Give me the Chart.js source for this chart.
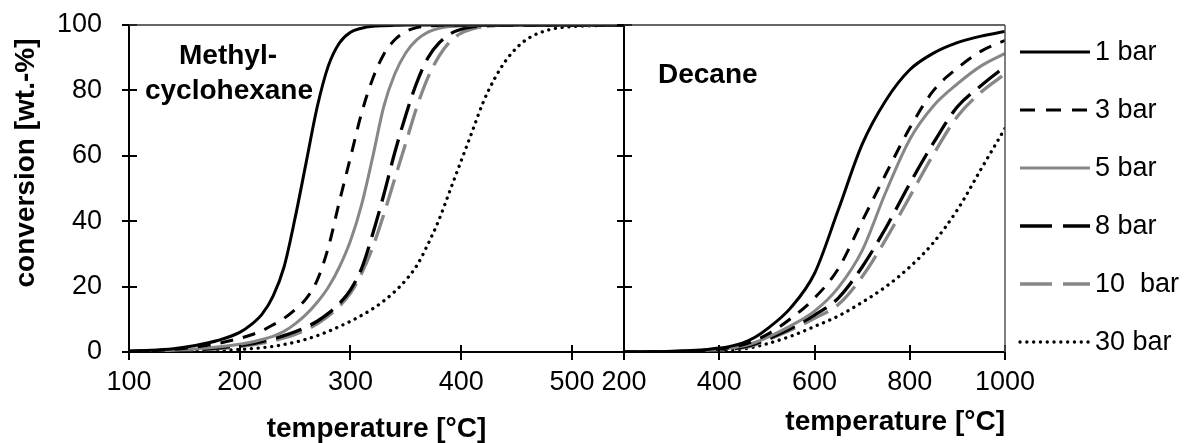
<!DOCTYPE html>
<html>
<head>
<meta charset="utf-8">
<script src="https://cdn.jsdelivr.net/npm/chart.js@4.4.1/dist/chart.umd.min.js"></script>
<style>
    html, body { margin: 0; padding: 0; background: #fff; }
    #wrap { position: relative; width: 1195px; height: 443px; }
    #wrap canvas { position: absolute; left: 0; top: 0; }
</style>
</head>
<body>
<div id="wrap">
    <canvas id="mchChart" width="1195" height="443"></canvas>
    <canvas id="decChart" width="1195" height="443"></canvas>
</div>
<script>
// pressures (legend)
var pressureLabels = ['1 bar', '3 bar', '5 bar', '8 bar', '10  bar', '30 bar']

// tick labels
var conversionTicks = [0, 20, 40, 60, 80, 100]
var mchTempTicks = [100, 200, 300, 400, 500]
var decTempTicks = [200, 400, 600, 800, 1000]

// methylcyclohexane, conversion [wt.-%] vs temperature [°C]
var mchTemps = [100, 120, 140, 160, 180, 200, 210, 220, 230, 240, 250, 260, 270, 280, 290, 300, 310, 320, 330, 340, 350, 360, 370, 380, 390, 400, 410, 420, 430, 440, 450, 460, 480, 500, 520, 547]
var mch1 = [0.3, 0.5, 1.0, 2.0, 3.5, 6.0, 8.3, 11.5, 17, 26, 41, 58, 75, 87.5, 94.5, 97.8, 99, 99.6, 99.8, 99.9, 100, 100, 100, 100, 100, 100, 100, 100, 100, 100, 100, 100, 100, 100, 100, 100]
var mch3 = [0.2, 0.4, 0.8, 1.5, 2.6, 4.2, 5.2, 6.5, 8.3, 10.3, 13, 16.3, 22, 32, 46, 59.5, 73, 83.5, 91, 95.5, 98, 99.2, 99.7, 99.9, 100, 100, 100, 100, 100, 100, 100, 100, 100, 100, 100, 100]
var mch5 = [0.2, 0.3, 0.5, 0.9, 1.5, 2.4, 3.0, 3.8, 4.8, 6.3, 8.6, 11.5, 15.2, 19.8, 26, 34, 45, 59.5, 75, 85, 91.5, 95.5, 97.8, 99, 99.5, 99.8, 99.9, 100, 100, 100, 100, 100, 100, 100, 100, 100]
var mch8 = [0.1, 0.2, 0.4, 0.7, 1.2, 2.0, 2.5, 3.2, 4.0, 5.0, 6.2, 7.6, 9.4, 11.8, 14.8, 19, 25.5, 36, 48, 61, 72.5, 82.5, 90, 94.5, 97.3, 98.7, 99.4, 99.7, 99.9, 100, 100, 100, 100, 100, 100, 100]
var mch10 = [0.1, 0.2, 0.3, 0.6, 1.0, 1.6, 2.1, 2.7, 3.4, 4.3, 5.4, 6.8, 8.6, 11, 14, 18, 24, 32, 42, 53, 64, 75, 84, 90.5, 95, 97.5, 98.8, 99.5, 99.8, 100, 100, 100, 100, 100, 100, 100]
var mch30 = [0.1, 0.15, 0.2, 0.35, 0.5, 0.8, 1.0, 1.3, 1.7, 2.3, 3.0, 3.9, 5.0, 6.3, 7.8, 9.4, 11.2, 13.2, 15.6, 18.5, 22, 26.5, 33, 40.5, 49.5, 58.5, 67.5, 76.5, 83.5, 89, 93, 95.8, 98.6, 99.5, 99.8, 100]

// decane
var decTemps = [200, 250, 300, 350, 375, 400, 425, 450, 475, 500, 550, 600, 650, 700, 750, 800, 850, 900, 950, 1000]
var dec1 = [0, 0.05, 0.2, 0.5, 0.8, 1.2, 1.8, 2.8, 4.5, 7, 13.5, 24, 43.5, 63.5, 77, 86.3, 91.4, 94.6, 96.6, 98]
var dec3 = [0, 0.05, 0.15, 0.35, 0.6, 0.9, 1.4, 2.2, 3.5, 5.3, 10.2, 16.5, 25.5, 40, 54.5, 68.5, 80, 86.8, 92, 95.3]
var dec5 = [0, 0.03, 0.1, 0.3, 0.5, 0.8, 1.2, 1.8, 2.9, 4.4, 8.0, 12.5, 19.7, 31, 49, 65, 75.3, 82, 87.5, 91.3]
var dec8 = [0, 0.03, 0.1, 0.25, 0.4, 0.65, 1.0, 1.5, 2.5, 3.9, 7.2, 11.3, 16.5, 26, 38, 51.5, 64, 75, 81.5, 87.3]
var dec10 = [0, 0.02, 0.08, 0.2, 0.35, 0.55, 0.85, 1.3, 2.2, 3.6, 6.7, 10.3, 14.5, 23, 34.5, 47.5, 60.5, 72, 79.5, 85]
var dec30 = [0, 0, 0.03, 0.1, 0.2, 0.35, 0.6, 0.9, 1.6, 2.5, 4.8, 7.8, 11, 15.2, 20, 26, 33.5, 43.5, 56, 68.4]

var GRAY = '#878787'
var lineStyles = [
    { color: '#000', width: 3, dash: [], legendDash: [] },
    { color: '#000', width: 3, dash: [13, 10], legendDash: [15, 11] },
    { color: GRAY, width: 3, dash: [], legendDash: [] },
    { color: '#000', width: 3.3, dash: [27, 10], legendDash: [32, 11] },
    { color: GRAY, width: 3.3, dash: [27, 10], legendDash: [32, 11] },
    { color: '#000', width: 3.3, dash: [0.1, 6.7], legendDash: [0.1, 6.7], cap: 'round' }
]

Chart.defaults.font.family = "Arial, 'Liberation Sans', sans-serif"
Chart.defaults.color = '#000'

function buildDatasets(temps, seriesList) {
    return seriesList.map(function (values, i) {
        var st = lineStyles[i]
        return {
            label: pressureLabels[i],
            data: temps.map(function (t, j) { return { x: t, y: values[j] } }),
            borderColor: st.color,
            borderWidth: st.width,
            borderDash: st.dash,
            borderCapStyle: st.cap || 'butt',
            pointRadius: 0,
            fill: false,
            cubicInterpolationMode: 'monotone'
        }
    })
}

function fixedTicks(values) {
    return function (scale) {
        scale.ticks = values.map(function (v) { return { value: v } })
    }
}

// draws inner halves of the tick marks, the open frame, free texts and the side legend
var extrasPlugin = {
    id: 'extras',
    afterDraw: function (chart, args, opts) {
        var ctx = chart.ctx
        var area = chart.chartArea
        var xs = chart.scales.x
        var ys = chart.scales.y
        ctx.save()
        ctx.strokeStyle = '#000'
        ctx.lineWidth = 2
        ctx.beginPath()
        xs.ticks.forEach(function (t) {
            var px = Math.round(xs.getPixelForValue(t.value))
            ctx.moveTo(px, area.bottom)
            ctx.lineTo(px, area.bottom - 7)
        })
        ys.ticks.forEach(function (t) {
            var py = Math.round(ys.getPixelForValue(t.value))
            ctx.moveTo(area.left, py)
            ctx.lineTo(area.left + 8, py)
        })
        ctx.stroke()

        ctx.lineWidth = 1.5
        ctx.strokeStyle = '#333'
        ctx.beginPath()
        ctx.moveTo(area.left, area.top)
        ctx.lineTo(area.right, area.top)
        ctx.stroke()
        if (opts.rightBorder) {
            ctx.strokeStyle = '#555'
            ctx.beginPath()
            ctx.moveTo(area.right, area.top)
            ctx.lineTo(area.right, area.bottom)
            ctx.stroke()
        }

        ctx.fillStyle = '#000'
        ;(opts.texts || []).forEach(function (tx) {
            ctx.save()
            ctx.font = (tx.bold ? 'bold ' : '') + tx.size + 'px ' + Chart.defaults.font.family
            ctx.textAlign = tx.align || 'left'
            ctx.textBaseline = tx.baseline || 'alphabetic'
            ctx.translate(tx.x, tx.y)
            if (tx.rotate) ctx.rotate(tx.rotate)
            ctx.fillText(tx.text, 0, 0)
            ctx.restore()
        })

        if (opts.legend) {
            var lg = opts.legend
            ctx.font = lg.size + 'px ' + Chart.defaults.font.family
            ctx.textAlign = 'left'
            ctx.textBaseline = 'middle'
            chart.data.datasets.forEach(function (ds, i) {
                var y = lg.y0 + i * lg.step
                ctx.save()
                ctx.strokeStyle = ds.borderColor
                ctx.lineWidth = ds.borderWidth
                ctx.lineCap = ds.borderCapStyle
                ctx.setLineDash(lineStyles[i].legendDash)
                ctx.beginPath()
                ctx.moveTo(lg.x, y)
                ctx.lineTo(lg.x + lg.len, y)
                ctx.stroke()
                ctx.restore()
                ctx.fillText(ds.label, lg.x + lg.len + 5, y + 1)
            })
        }
        ctx.restore()
    }
}

function plainLabel(v) { return String(v) }

function axisOptions(tickValues, min, max, extra) {
    var o = {
        type: 'linear',
        min: min,
        max: max,
        afterBuildTicks: fixedTicks(tickValues),
        grid: { drawOnChartArea: false, color: '#000', lineWidth: 2, tickLength: 7 },
        border: { display: true, color: '#000', width: 2 },
        ticks: { font: { size: 27 }, color: '#000', callback: plainLabel }
    }
    return Object.assign(o, extra)
}

function yFit(width) {
    return function (s) {
        s.width = width
        s.paddingTop = 0
        s.paddingBottom = 0
    }
}

new Chart(document.getElementById('mchChart'), {
    type: 'line',
    data: { datasets: buildDatasets(mchTemps, [mch1, mch3, mch5, mch8, mch10, mch30]) },
    options: {
        responsive: false,
        animation: false,
        devicePixelRatio: 1,
        layout: { padding: { left: 0, right: 1195 - 624, top: 25, bottom: 0 } },
        plugins: {
            legend: { display: false },
            tooltip: { enabled: false },
            extras: {
                texts: [
                    { text: 'Methyl-', x: 228, y: 64, size: 28, bold: true, align: 'center' },
                    { text: 'cyclohexane', x: 229, y: 99, size: 28, bold: true, align: 'center' },
                    { text: 'conversion [wt.-%]', x: 26, y: 163, size: 28, bold: true, align: 'center', baseline: 'middle', rotate: -Math.PI / 2 }
                ]
            }
        },
        scales: {
            x: axisOptions(mchTempTicks, 100, 547, {
                grid: { drawOnChartArea: false, color: '#000', lineWidth: 2, tickLength: 8 },
                ticks: { font: { size: 27 }, color: '#000', padding: 6, maxRotation: 0, callback: plainLabel },
                title: { display: true, text: 'temperature [°C]', font: { size: 28, weight: 'bold', lineHeight: 1 }, padding: { top: 0, bottom: 0 } },
                afterFit: function (s) { s.height = 91 }
            }),
            y: axisOptions(conversionTicks, 0, 100, {
                ticks: { font: { size: 27 }, color: '#000', padding: 20, callback: plainLabel },
                afterFit: yFit(129)
            })
        }
    },
    plugins: [extrasPlugin]
})

new Chart(document.getElementById('decChart'), {
    type: 'line',
    data: { datasets: buildDatasets(decTemps, [dec1, dec3, dec5, dec8, dec10, dec30]) },
    options: {
        responsive: false,
        animation: false,
        devicePixelRatio: 1,
        layout: { padding: { left: 0, right: 1195 - 1005, top: 25, bottom: 0 } },
        plugins: {
            legend: { display: false },
            tooltip: { enabled: false },
            extras: {
                rightBorder: true,
                texts: [
                    { text: 'Decane', x: 658, y: 83, size: 28, bold: true, align: 'left' }
                ],
                legend: { x: 1020, len: 70, y0: 52, step: 58, size: 27 }
            }
        },
        scales: {
            x: axisOptions(decTempTicks, 200, 1000, {
                grid: { drawOnChartArea: false, color: '#000', lineWidth: 2, tickLength: 8 },
                ticks: { font: { size: 27 }, color: '#000', padding: 6, maxRotation: 0, callback: plainLabel },
                title: { display: true, align: 'end', text: 'temperature [°C]', font: { size: 28, weight: 'bold', lineHeight: 1 }, padding: { top: 0, bottom: 7 } },
                afterFit: function (s) { s.height = 91 }
            }),
            y: axisOptions(conversionTicks, 0, 100, {
                ticks: { display: false },
                afterFit: yFit(624)
            })
        }
    },
    plugins: [extrasPlugin]
})
</script>
</body>
</html>
